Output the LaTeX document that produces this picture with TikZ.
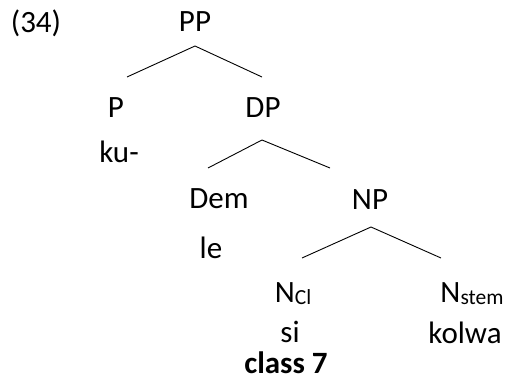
\documentclass[tikz,border=0pt]{standalone}
\usepackage{fontspec}
\setmainfont{Carlito}
\begin{document}
\begin{tikzpicture}[x=1pt,y=1pt,
  lab/.style={inner sep=0pt, anchor=base, font=\fontsize{31}{36}\selectfont},
  edge/.style={line width=0.9pt, black}]
\useasboundingbox (0,0) rectangle (506,389);
\newcommand{\subtxt}[1]{\raisebox{-2.5pt}{\fontsize{21.5}{24}\selectfont #1}}
\node[lab] (ex) at (36,356) {(34)};
\node[lab] (pp) at (195,357) {PP};
\node[lab] (p) at (116,271) {P};
\node[lab] (ku) at (119,226) {ku-};
\node[lab] (dp) at (263,271) {DP};
\node[lab] (dem) at (219,181) {Dem};
\node[lab] (le) at (211,131) {le};
\node[lab] (np) at (370,180) {NP};
\node[lab] (ncl) at (293,87) {N\subtxt{Cl}};
\node[lab] (si) at (290,47) {si};
\node[lab, font=\fontsize{31}{36}\selectfont\bfseries] (cls) at (286,16) {class 7};
\node[lab] (nstem) at (472,87) {N\subtxt{stem}};
\node[lab] (kolwa) at (465,46) {kolwa};
\coordinate (ppA) at (195,343);
\coordinate (ppL) at (127,312);
\coordinate (ppR) at (262,312);
\coordinate (dpA) at (262,249);
\coordinate (dpL) at (208,221);
\coordinate (dpR) at (330,221);
\coordinate (npA) at (371,162);
\coordinate (npL) at (302,131);
\coordinate (npR) at (441,131);
\draw[edge] (ppL) -- (ppA) -- (ppR);
\draw[edge] (dpL) -- (dpA) -- (dpR);
\draw[edge] (npL) -- (npA) -- (npR);
\end{tikzpicture}
\end{document}
